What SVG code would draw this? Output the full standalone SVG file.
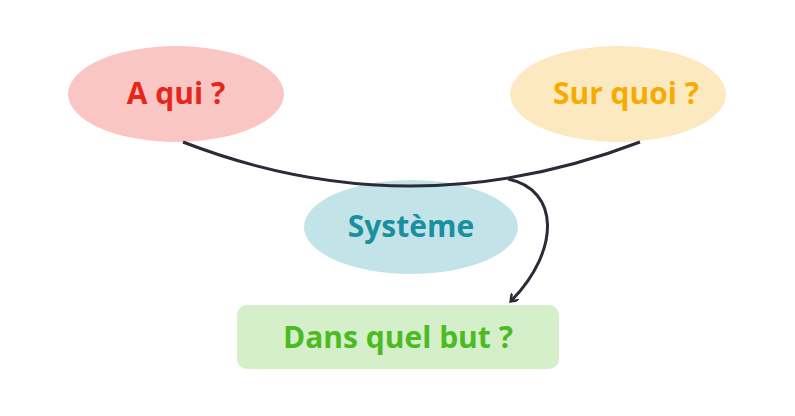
<svg xmlns="http://www.w3.org/2000/svg" width="795" height="416" viewBox="0 0 795 416">
<style>
text{font-family:"Open Sans","Noto Sans",sans-serif;font-weight:bold;font-size:30px;text-anchor:middle;dominant-baseline:central}
.c{fill:none;stroke:#2b2b38;stroke-width:3}
</style>
<defs><marker id="a" markerWidth="10" markerHeight="10" refX="5" refY="5" orient="auto" markerUnits="userSpaceOnUse"><path d="M0,0 L7,5 L0,10" fill="none" stroke="#2b2b38" stroke-width="2.5"/></marker></defs>
<rect width="795" height="416" fill="#fff"/>
<g id="aqui"><ellipse cx="176" cy="94" rx="108" ry="48" fill="#f9c6c3"/><text x="176" y="92" fill="#e8251a">A qui ?</text></g>
<g id="surquoi"><ellipse cx="618" cy="94" rx="108" ry="48" fill="#fde9bf"/><text x="626" y="92" fill="#f5ab00">Sur quoi ?</text></g>
<g id="systeme"><ellipse cx="411" cy="227" rx="107" ry="47" fill="#c2e3e7"/><text x="411" y="225" fill="#1a8fa0">Système</text></g>
<g id="but"><rect x="237" y="305" width="322" height="64" rx="10" fill="#d4efc9"/><text x="398" y="336" fill="#4cbb22">Dans quel but ?</text></g>
<g id="connectors">
<path class="c" d="M183,142 Q410,230 640,142"/>
<path class="c" d="M508,179 C560,190 560,250 512,300" marker-end="url(#a)"/>
</g>
</svg>
